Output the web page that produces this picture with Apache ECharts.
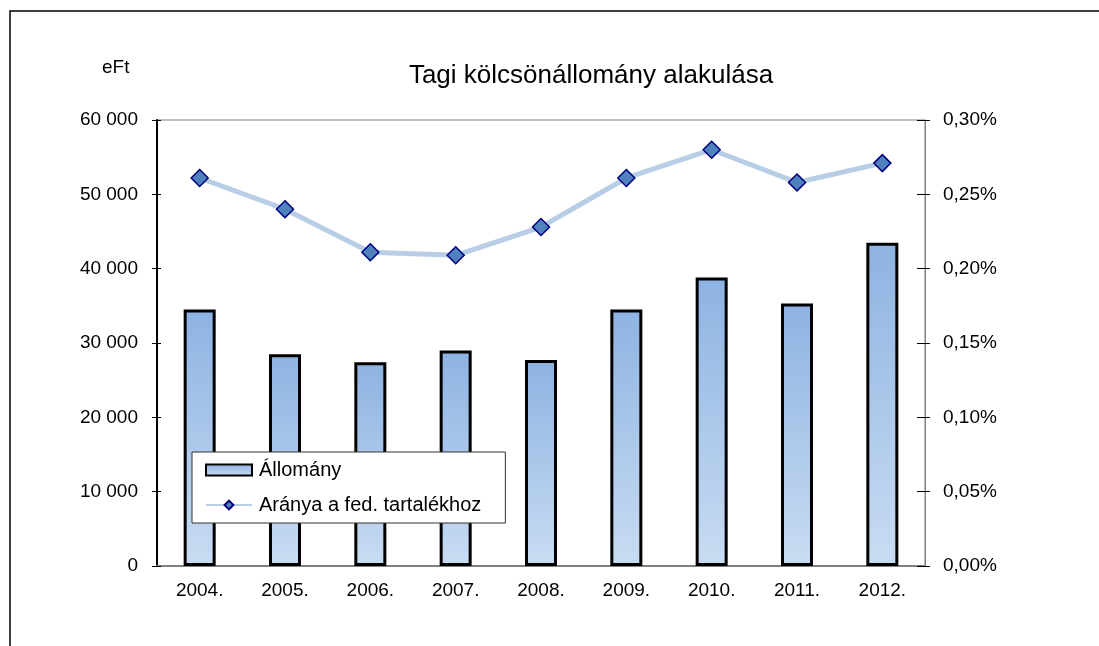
<!DOCTYPE html>
<html>
<head>
<meta charset="utf-8">
<script src="https://cdn.jsdelivr.net/npm/echarts@6/dist/echarts.min.js"></script>
<style>
html,body{margin:0;padding:0;background:#fff;}
#main{width:1099px;height:646px;}
</style>
</head>
<body>
<div id="main"></div>
<script>
// 年份
var years=['2004.','2005.','2006.','2007.','2008.','2009.','2010.','2011.','2012.']
// 左轴: állomány, eFt
var allomany=[34500,28500,27400,29000,27700,34500,38800,35300,43500]
// 右轴: aránya a fed. tartalékhoz, %
var aranya=[0.261,0.240,0.211,0.209,0.228,0.261,0.280,0.258,0.271]

var fontName='Arial, "Liberation Sans", sans-serif'

// 左轴刻度 "60 000"
function fmtLeft(v){
	return String(v).replace(/\B(?=(\d{3})+(?!\d))/g,' ')
}
// 右轴刻度 "0,30%"
function fmtRight(v){
	return v.toFixed(2).replace('.',',')+'%'
}

var myChart=echarts.init(document.getElementById('main'))

var option={
	backgroundColor:'#fff',
	animation:false,
	textStyle:{fontFamily:fontName},
	title:{
		text:'Tagi kölcsönállomány alakulása',
		left:586,
		top:58,
		textAlign:'center',
		textStyle:{fontFamily:fontName,fontSize:26,fontWeight:'normal',color:'#000'}
	},
	graphic:[
		// 外框,只露出上边和左边
		{type:'rect',shape:{x:10,y:11,width:1300,height:900},style:{fill:'none',stroke:'#000',lineWidth:1.5},silent:true},
		{type:'text',left:102,top:58,style:{text:'eFt',font:'19px '+fontName,fill:'#000'}}
	],
	grid:{
		left:157,
		right:174,
		top:120,
		bottom:80,
		show:true,
		borderColor:'#808080',
		borderWidth:1,
		backgroundColor:'#fff'
	},
	legend:{
		orient:'vertical',
		left:192,
		top:452,
		padding:[8,24,8,13],
		itemWidth:46,
		itemHeight:11,
		itemGap:15,
		backgroundColor:'#fff',
		borderColor:'#333',
		borderWidth:1,
		textStyle:{fontFamily:fontName,fontSize:20,color:'#000',padding:[0,0,0,2]},
		data:[{name:'Állomány',icon:'rect'},'Aránya a fed. tartalékhoz']
	},
	xAxis:[
		{
			type:'category',
			data:years,
			axisLine:{lineStyle:{color:'#808080',width:2}},
			axisTick:{length:7,lineStyle:{color:'#000'}},
			axisLabel:{color:'#000',fontSize:19,margin:15,fontFamily:fontName}
		},
		{
			// 只用来画穿过轴线的刻度
			type:'category',
			data:years,
			position:'bottom',
			axisLine:{show:false},
			axisTick:{inside:true,length:6,lineStyle:{color:'#000'}},
			axisLabel:{show:false}
		}
	],
	yAxis:[
		{
			type:'value',
			min:0,
			max:60000,
			interval:10000,
			splitLine:{show:false},
			axisLine:{show:true,lineStyle:{color:'#000',width:2}},
			axisTick:{show:true,length:5,lineStyle:{color:'#000'}},
			axisLabel:{color:'#000',fontSize:19,margin:19,formatter:fmtLeft,fontFamily:fontName}
		},
		{
			type:'value',
			position:'right',
			min:0,
			max:0.3,
			interval:0.05,
			splitLine:{show:false},
			axisLine:{show:true,lineStyle:{color:'#808080',width:1}},
			axisTick:{show:true,length:5,lineStyle:{color:'#000'}},
			axisLabel:{color:'#000',fontSize:19,margin:18,formatter:fmtRight,fontFamily:fontName}
		},
		{
			type:'value',
			position:'left',
			min:0,
			max:60000,
			interval:10000,
			splitLine:{show:false},
			axisLine:{show:false},
			axisTick:{show:true,inside:true,length:4,lineStyle:{color:'#000'}},
			axisLabel:{show:false}
		},
		{
			type:'value',
			position:'right',
			min:0,
			max:0.3,
			interval:0.05,
			splitLine:{show:false},
			axisLine:{show:false},
			axisTick:{show:true,inside:true,length:8,lineStyle:{color:'#000'}},
			axisLabel:{show:false}
		}
	],
	series:[
		{
			name:'Állomány',
			type:'bar',
			yAxisIndex:0,
			barWidth:32,
			data:allomany,
			itemStyle:{
				color:new echarts.graphic.LinearGradient(0,0,0,1,[
					{offset:0,color:'#8db3e2'},
					{offset:1,color:'#c9dcf2'}
				]),
				borderColor:'#000',
				borderWidth:3
			}
		},
		{
			name:'Aránya a fed. tartalékhoz',
			type:'line',
			yAxisIndex:1,
			data:aranya,
			symbol:'diamond',
			symbolSize:17,
			lineStyle:{color:'#b8cde6',width:5},
			itemStyle:{color:'#4f81bd',borderColor:'#000080',borderWidth:1.5},
			z:5
		}
	]
}

myChart.setOption(option)
</script>
</body>
</html>
